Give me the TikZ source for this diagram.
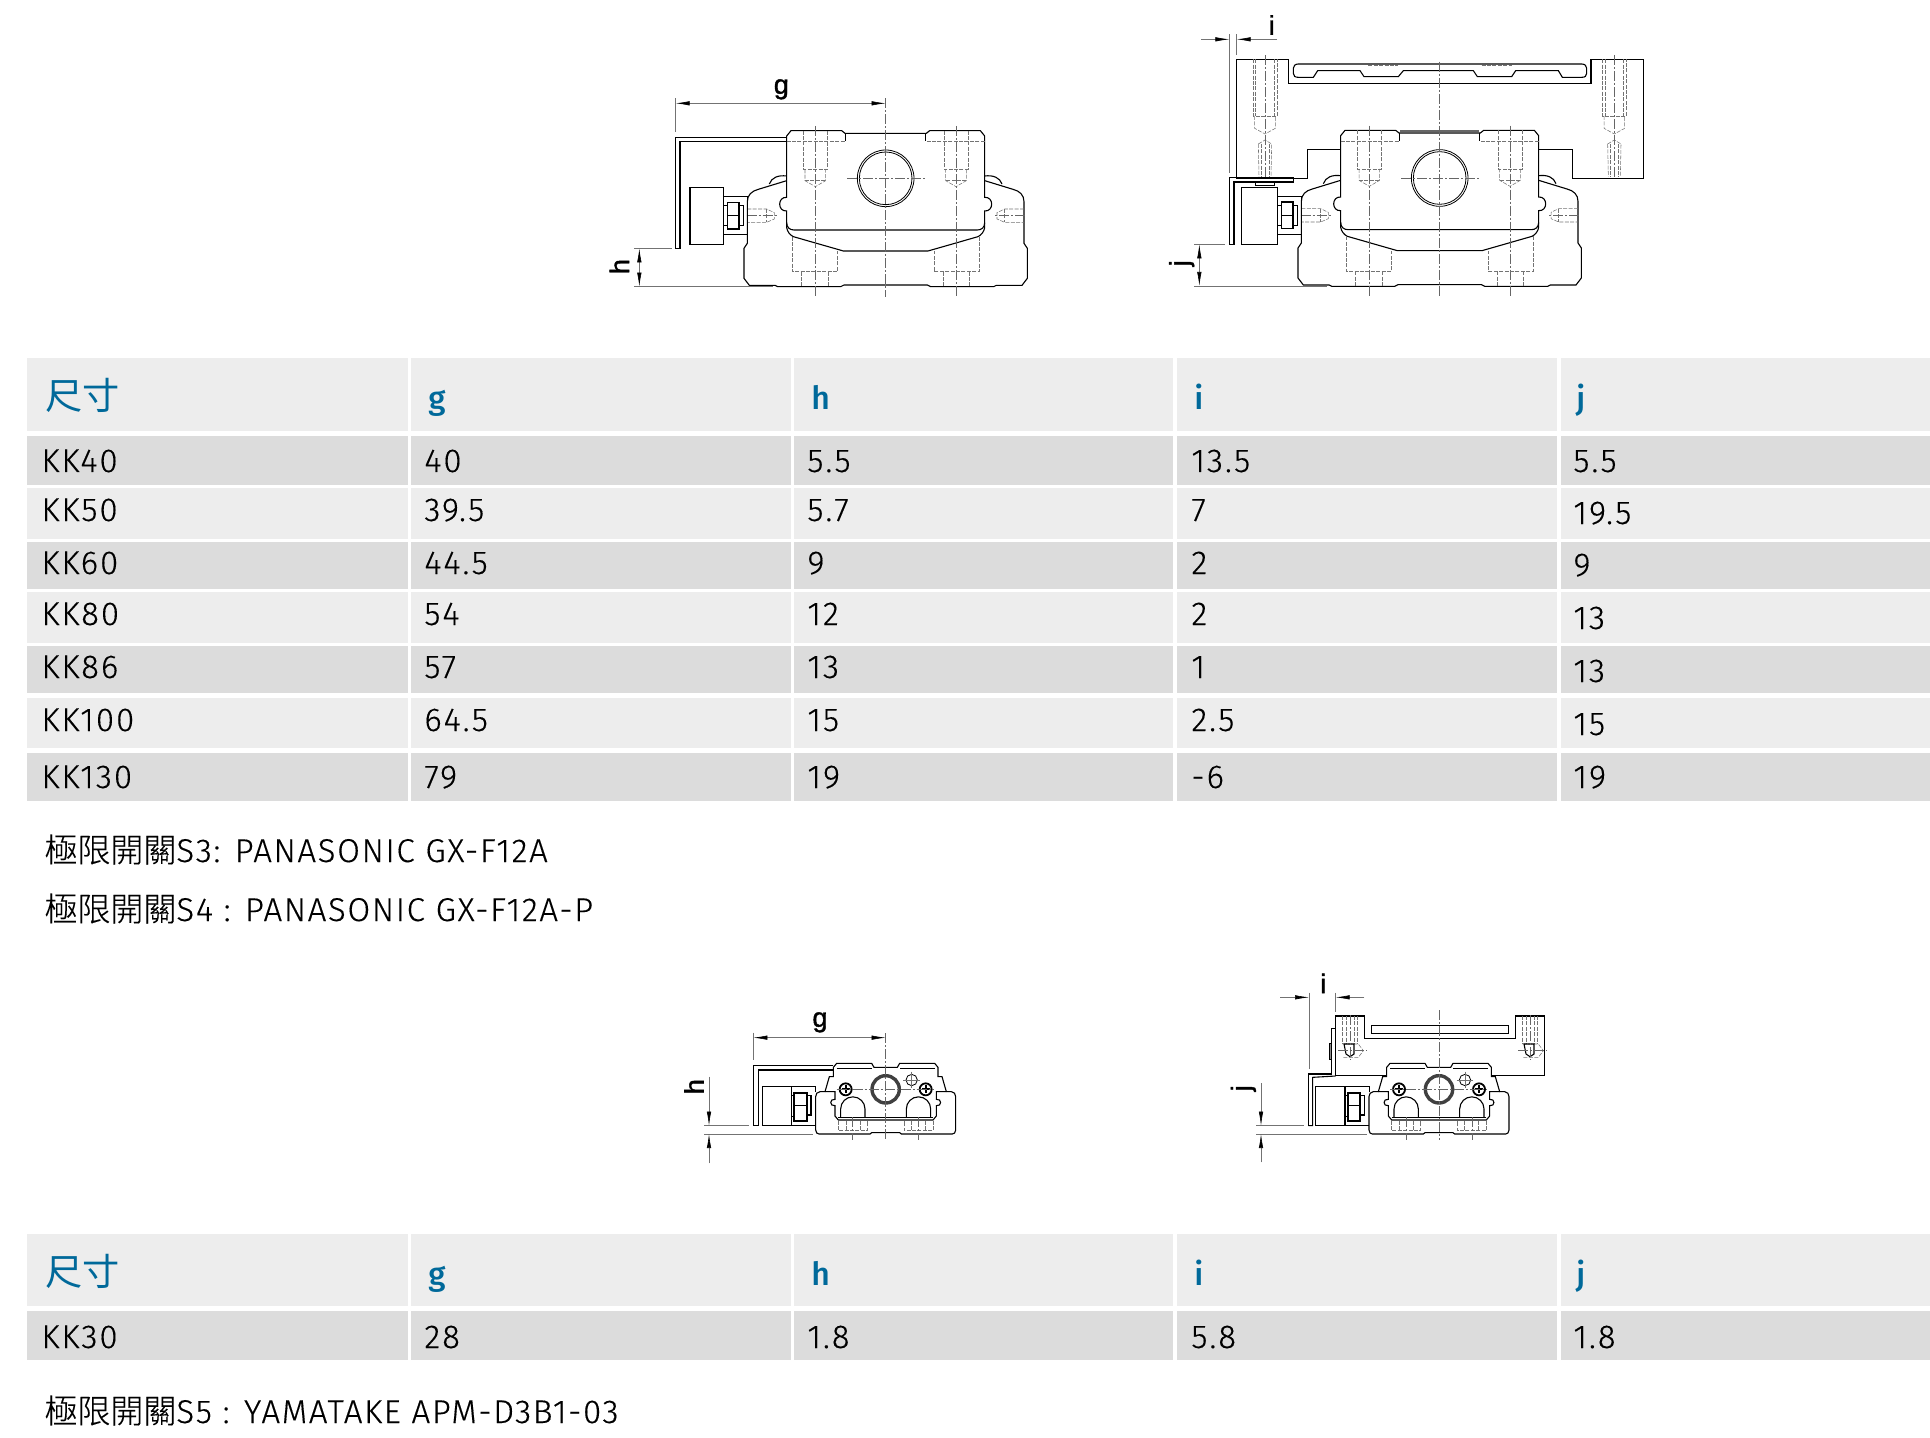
\documentclass[tikz,border=0pt]{standalone}
\usepackage{fontspec}
\setmainfont[LetterSpace=6,FakeBold=0.3]{Fira Sans Light}
\newfontfamily\notefont[LetterSpace=5,FakeBold=0.3]{Fira Sans Light}
\newfontfamily\headfont{Fira Sans Medium}
\newfontfamily\cjkfont{Noto Sans CJK TC}
\newfontfamily\cjklight[FakeBold=0.3]{Noto Sans CJK TC Light}
\newfontfamily\dimfont[FakeBold=1.5]{Liberation Sans}
\usetikzlibrary{arrows.meta}
\definecolor{headblue}{HTML}{00699A}
\definecolor{rowlight}{HTML}{EDEDED}
\definecolor{rowdark}{HTML}{DCDCDC}
\tikzset{
	partline/.style={line width=0.55pt, black},
	thinline/.style={line width=0.4pt, black},
	hiddenline/.style={line width=0.27pt, black!55, dash pattern=on 2pt off 0.7pt},
	axisline/.style={line width=0.3pt, black!60, dash pattern=on 5pt off 1pt on 1pt off 1pt},
	extline/.style={line width=0.3pt, black!55},
	dimboth/.style={extline, {Latex[black,length=7pt,width=2.2pt]}-{Latex[black,length=7pt,width=2.2pt]}},
	dimtip/.style={extline, -{Latex[black,length=7pt,width=2.2pt]}},
	dimlabel/.style={font=\dimfont\fontsize{13.5}{15}\selectfont, inner sep=0pt},
	celltext/.style={anchor=base west, inner sep=0pt, font=\fontsize{16.5}{18}\selectfont},
	notetext/.style={anchor=base west, inner sep=0pt, font=\notefont\fontsize{16.5}{18}\selectfont},
	headtext/.style={anchor=base west, inner sep=0pt, text=headblue, font=\headfont\fontsize{16}{18}\selectfont},
	headcjk/.style={anchor=base west, inner sep=0pt, text=headblue, font=\cjkfont\fontsize{18.6}{20}\selectfont},
}
\newcommand{\cjklabel}{{\cjklight 極限開關}}

% left half of the big carriage, mirrored about x=887
\newcommand{\bighalf}{
	\draw[partline] (887,220) -- (765,220) -- (755,212) -- (603,212) -- (590,228) -- (590,412)
		.. controls (562,410) and (562,455) .. (590,453) -- (590,488)
		.. controls (590,503) and (600,510) .. (612,510) -- (887,510);
	\draw[partline] (590,488) -- (590,503) .. controls (592,515) and (600,525) .. (610,530) -- (760,573) -- (887,573);
	\draw[partline] (590,362) -- (505,388) .. controls (485,393) and (472,405) .. (472,425) -- (472,550) -- (462,565)
		-- (462,655) -- (478,676) -- (555,676) -- (563,680) -- (752,680) -- (762,675) -- (887,675);
	\draw[partline] (590,348) .. controls (565,345) and (545,352) .. (538,372);
	\draw[partline] (767,220) -- (767,244);
	\draw[hiddenline] (590,244) -- (767,244);
	% cap screw
	\draw[hiddenline] (640,212) -- (640,328) -- (712,328) -- (712,212);
	\draw[hiddenline] (645,328) -- (645,362) -- (676,380) -- (707,362) -- (707,328);
	\draw[hiddenline] (645,362) -- (707,362);
	\draw[axisline] (676,198) -- (676,710);
	% grub screw
	\draw[hiddenline] (472,447) -- (530,447) -- (553,458) -- (553,477) -- (530,487) -- (472,487);
	\draw[hiddenline] (530,447) -- (530,487);
	\draw[axisline] (470,467) -- (565,467);
	% base bolt
	\draw[hiddenline] (607,530) -- (607,635) -- (742,635) -- (742,573);
	\draw[hiddenline] (635,635) -- (635,680);
	\draw[hiddenline] (715,635) -- (715,680);
}
\newcommand{\bigblock}{
	\bighalf
	\begin{scope}[shift={(1774,0)},xscale=-1]
		\bighalf
	\end{scope}
	\draw[thinline] (887,355) circle (79);
	\draw[thinline] (887,355) circle (85);
	\draw[axisline] (772,355) -- (1007,355);
	\draw[thinline] (400,410) rectangle (472,524);
	\draw[partline] (413,427) rectangle (447,507);
	\draw[thinline] (413,467) -- (447,467);
	\draw[partline] (447,437) -- (460,437) -- (460,497) -- (447,497);
	\draw[thinline] (400,437) -- (413,437);
	\draw[thinline] (400,497) -- (413,497);
	\draw[partline] (400,382) -- (400,553);
}

% left half of the small carriage, mirrored about x=647
\newcommand{\smallhalf}{
	\draw[partline] (647,322) -- (612,322) -- (605,310) -- (500,310) -- (490,322) -- (490,350) -- (478,350) -- (465,395)
		-- (450,395) .. controls (442,395) and (437,402) .. (437,410) -- (437,510) .. controls (437,518) and (442,522) .. (447,522)
		-- (600,522) -- (605,518) -- (647,518);
	\draw[partline] (465,395) -- (495,395) -- (495,418) .. controls (478,415) and (478,440) .. (495,437) -- (495,468)
		-- (505,480) -- (647,480);
	\draw[thinline] (505,472) -- (647,472);
	\draw[partline] (512,472) -- (512,447) arc (180:360:36.5) -- (585,472);
	\draw[thinline] (500,326) -- (605,326);
	\draw[hiddenline] (505,482) -- (505,512) -- (592,512) -- (592,482);
	\draw[hiddenline] (528,482) -- (528,512);
	\draw[hiddenline] (570,482) -- (570,512);
	\draw[axisline] (548,472) -- (548,540);
	% screw
	\draw[line width=0.9pt] (527,388) circle (18);
	\draw[line width=0.9pt] (515,388) -- (539,388);
	\draw[line width=0.9pt] (527,376) -- (527,400);
}
\newcommand{\smallblock}{
	\smallhalf
	\begin{scope}[shift={(1294,0)},xscale=-1]
		\smallhalf
	\end{scope}
	\draw[line width=1.7pt, black!75] (647,388) circle (41);
	\draw[thinline] (725,360) circle (17);
	\draw[extline] (700,360) -- (750,360);
	\draw[extline] (725,335) -- (725,385);
	\draw[axisline] (500,388) -- (790,388);
	\draw[partline] (277,380) rectangle (365,496);
	\draw[thinline] (365,380) -- (437,380) -- (437,395);
	\draw[thinline] (365,496) -- (437,496);
	\draw[line width=0.9pt] (373,398) rectangle (410,482);
	\draw[thinline] (373,437) -- (410,437);
	\draw[partline] (410,407) -- (423,407) -- (423,465) -- (410,465);
	\draw[thinline] (365,407) -- (373,407);
	\draw[thinline] (365,470) -- (373,470);
}

\begin{document}
\begin{tikzpicture}[x=0.5pt,y=-0.5pt]
	\useasboundingbox (0,0) rectangle (1930,1438);

	%%%%% FIRST TABLE %%%%%
	\foreach \coll/\colr in {27/408, 411/791, 794/1173, 1177/1557, 1561/1930} {
		\fill[rowlight] (\coll,358) rectangle (\colr,431);
		\fill[rowdark] (\coll,436) rectangle (\colr,485);
		\fill[rowlight] (\coll,488) rectangle (\colr,539);
		\fill[rowdark] (\coll,542) rectangle (\colr,589);
		\fill[rowlight] (\coll,592) rectangle (\colr,643);
		\fill[rowdark] (\coll,646) rectangle (\colr,693);
		\fill[rowlight] (\coll,698) rectangle (\colr,748);
		\fill[rowdark] (\coll,753) rectangle (\colr,801);
		\fill[rowlight] (\coll,1234) rectangle (\colr,1306);
		\fill[rowdark] (\coll,1311) rectangle (\colr,1360);
	}
	\node[headcjk] (sizea) at (45,409) {尺寸};
	\node[headtext] (ga) at (428,409) {g};
	\node[headtext] (ha) at (811,409) {h};
	\node[headtext] (ia) at (1194,409) {i};
	\node[headtext] (ja) at (1576,409) {j};

	\foreach \kk/\base/\jbase/\vg/\vh/\vi/\vj in {
		40/472/472/40/5.5/13.5/5.5,
		50/521/524/39.5/5.7/7/19.5,
		60/574/576/44.5/9/2/9,
		80/625/629/54/12/2/13,
		86/678/682/57/13/1/13,
		100/731/735/64.5/15/2.5/15,
		130/788/788/79/19/-6/19} {
		\node[celltext] (kk\kk) at (41,\base) {KK\kk};
		\node[celltext] (g\kk) at (424,\base) {\vg};
		\node[celltext] (h\kk) at (807,\base) {\vh};
		\node[celltext] (i\kk) at (1191,\base) {\vi};
		\node[celltext] (j\kk) at (1573,\jbase) {\vj};
	}

	\node[notetext] (sthree) at (44,862) {\cjklabel S3: PANASONIC GX-F12A};
	\node[notetext] (sfour) at (44,921) {\cjklabel S4 : PANASONIC GX-F12A-P};

	%%%%% SECOND TABLE %%%%%
	\node[headcjk] (sizeb) at (45,1285) {尺寸};
	\node[headtext] (gb) at (428,1285) {g};
	\node[headtext] (hb) at (811,1285) {h};
	\node[headtext] (ib) at (1194,1285) {i};
	\node[headtext] (jb) at (1576,1285) {j};
	\node[celltext] (kkthirty) at (41,1348) {KK30};
	\node[celltext] (gthirty) at (424,1348) {28};
	\node[celltext] (hthirty) at (807,1348) {1.8};
	\node[celltext] (ithirty) at (1191,1348) {5.8};
	\node[celltext] (jthirty) at (1573,1348) {1.8};
	\node[notetext] (sfive) at (44,1423) {\cjklabel S5 : YAMATAKE APM-D3B1-03};

	%%%%% TOP LEFT %%%%%
	\begin{scope}[shift={(590,60)},scale=1/3]
		\bigblock
		\draw[partline] (300,382) rectangle (400,553);
		\draw[partline] (590,232) -- (257,232) -- (257,565) -- (270,565) -- (270,244) -- (590,244);
		\draw[axisline] (887,115) -- (887,710);
		\draw[extline] (257,115) -- (257,217);
		\draw[extline] (133,565) -- (245,565);
		\draw[extline] (133,680) -- (548,680);
		\draw[dimboth] (257,130) -- (887,130);
		\draw[dimboth] (148,565) -- (148,680);
		\node[dimlabel] (gtop) at (574,88) {g};
		\node[dimlabel, rotate=90] (htop) at (88,620) {h};
	\end{scope}

	%%%%% TOP RIGHT %%%%%
	\begin{scope}[shift={(1144,59.67)},scale=1/3]
		\bigblock
		\draw[line width=0.9pt, black!60] (768,213) -- (1006,213);
	\end{scope}
	\begin{scope}[shift={(1150,0)},scale=1/3]
		\draw[partline] (274,562) rectangle (382,733);
		\draw[partline] (238,733) -- (238,533) -- (431,533) -- (431,546) -- (252,546) -- (252,733) -- cycle;
		\draw[thinline] (316,546) rectangle (374,556);
		\draw[partline] (572,448) -- (472,448) -- (472,535) -- (260,535) -- (260,178) -- (415,178) -- (415,250)
			-- (1323,250) -- (1323,178) -- (1480,178) -- (1480,535) -- (1268,535) -- (1268,448) -- (1168,448);
		\draw[partline] (445,192) -- (1295,192) .. controls (1305,192) and (1310,198) .. (1310,205) -- (1310,220)
			.. controls (1310,228) and (1305,232) .. (1295,232) -- (1237,232) -- (1225,212) -- (1097,212) -- (1085,230)
			-- (982,230) -- (970,212) -- (760,212) -- (745,230) -- (642,230) -- (630,212) -- (503,212) -- (490,232)
			-- (445,232) .. controls (435,232) and (430,228) .. (430,220) -- (430,205) .. controls (430,198) and (435,192) .. (445,192);
		\draw[hiddenline] (655,196) -- (745,196);
		\draw[hiddenline] (995,196) -- (1085,196);
		\foreach \bx in {345,1393} {
			\draw[hiddenline] ({\bx-36},178) -- ({\bx-36},348) -- ({\bx+36},348) -- ({\bx+36},178);
			\draw[hiddenline] ({\bx-28},178) -- ({\bx-28},348);
			\draw[hiddenline] ({\bx+28},178) -- ({\bx+28},348);
			\draw[hiddenline] ({\bx-31},348) -- ({\bx-31},385) -- (\bx,402) -- ({\bx+31},385) -- ({\bx+31},348);
			\draw[hiddenline] ({\bx-20},432) -- (\bx,420) -- ({\bx+20},432) -- ({\bx+18},530);
			\draw[hiddenline] ({\bx-20},432) -- ({\bx-18},530);
			\draw[hiddenline] ({\bx-12},432) -- ({\bx-12},530);
			\draw[hiddenline] ({\bx+12},432) -- ({\bx+12},530);
			\draw[axisline] (\bx,165) -- (\bx,535);
		}
		\draw[axisline] (869,185) -- (869,890);
		\draw[extline] (238,103) -- (238,520);
		\draw[extline] (260,103) -- (260,165);
		\draw[extline] (133,733) -- (225,733);
		\draw[extline] (133,858) -- (530,858);
		\draw[dimtip] (153,118) -- (238,118);
		\draw[dimtip] (381,118) -- (260,118);
		\draw[dimboth] (148,733) -- (148,858);
		\node[dimlabel] (itop) at (365,75) {i};
		\node[dimlabel, rotate=90] (jtop) at (95,790) {j};
	\end{scope}

	%%%%% BOTTOM LEFT %%%%%
	\begin{scope}[shift={(670,960)},scale=1/3]
		\smallblock
		\draw[partline] (490,316) -- (250,316) -- (250,497) -- (265,497) -- (265,330) -- (490,330);
		\draw[axisline] (647,220) -- (647,540);
		\draw[extline] (250,218) -- (250,300);
		\draw[extline] (103,497) -- (237,497);
		\draw[extline] (103,522) -- (430,522);
		\draw[dimboth] (250,233) -- (647,233);
		\draw[dimtip] (117,350) -- (117,497);
		\draw[dimtip] (117,610) -- (117,522);
		\node[dimlabel] (gbot) at (450,187) {g};
		\node[dimlabel, rotate=90] (hbot) at (72,380) {h};
	\end{scope}

	%%%%% BOTTOM RIGHT %%%%%
	\begin{scope}[shift={(1223.33,960)},scale=1/3]
		\smallblock
	\end{scope}
	\begin{scope}[shift={(1210,960)},scale=1/3]
		\draw[partline] (530,346) -- (377,346) -- (377,168) -- (463,168) -- (463,236) -- (917,236) -- (917,168) -- (1003,168) -- (1003,346) -- (845,346);
		\draw[partline] (484,196) rectangle (895,220);
		\draw[partline] (295,497) -- (295,342) -- (365,342) -- (365,205) -- (377,205);
		\draw[partline] (295,497) -- (308,497) -- (308,352) -- (377,348);
		\draw[thinline, fill=black!45] (358,250) rectangle (365,298);
		\foreach \bx in {420,960} {
			\draw[hiddenline] ({\bx-22},168) -- ({\bx-22},250);
			\draw[hiddenline] ({\bx+22},168) -- ({\bx+22},250);
			\draw[hiddenline] ({\bx-12},168) -- ({\bx-12},250);
			\draw[hiddenline] ({\bx+12},168) -- ({\bx+12},250);
			\draw[hiddenline] ({\bx-22},252) -- ({\bx+25},252) -- ({\bx+40},272) -- ({\bx+25},292) -- ({\bx-22},292);
			\draw[partline] ({\bx-18},252) -- ({\bx+12},252) -- ({\bx+12},282) -- ({\bx},290) -- ({\bx-12},282) -- cycle;
			\draw[axisline] (\bx,165) -- (\bx,300);
			\draw[axisline] ({\bx-35},272) -- ({\bx+50},272);
		}
		\draw[axisline] (687,150) -- (687,540);
		\draw[extline] (297,98) -- (297,328);
		\draw[extline] (377,98) -- (377,155);
		\draw[extline] (138,497) -- (282,497);
		\draw[extline] (138,522) -- (470,522);
		\draw[dimtip] (210,112) -- (297,112);
		\draw[dimtip] (463,112) -- (377,112);
		\draw[dimtip] (153,370) -- (153,497);
		\draw[dimtip] (153,607) -- (153,522);
		\node[dimlabel] (ibot) at (340,70) {i};
		\node[dimlabel, rotate=90] (jbot) at (100,385) {j};
	\end{scope}
\end{tikzpicture}
\end{document}
